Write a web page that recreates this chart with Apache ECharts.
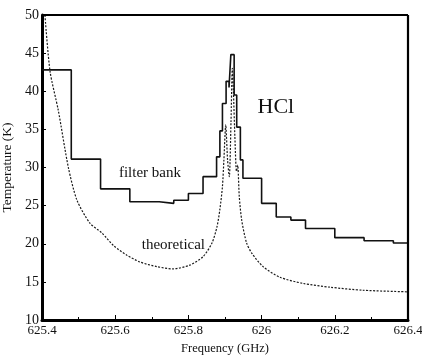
<!DOCTYPE html>
<html>
<head>
<meta charset="utf-8">
<script src="https://cdn.jsdelivr.net/npm/echarts@6/dist/echarts.min.js"></script>
<style>
  html, body { margin: 0; padding: 0; background: #fff; }
  #chart { width: 422px; height: 355px; }
</style>
</head>
<body>
<div id="chart"></div>
<script>
// Filter bank channel edges (GHz) and the brightness temperature of each channel (K)
var channelEdges = [625.40, 625.48, 625.56, 625.64, 625.72, 625.76, 625.80, 625.84,
  625.877, 625.886, 625.893, 625.903, 625.911, 625.916, 625.925, 625.932, 625.942,
  625.949, 626.00, 626.04, 626.08, 626.12, 626.20, 626.28, 626.36, 626.40];
var channelTemps = [42.8, 31.1, 27.2, 25.5, 25.3, 25.7, 26.6, 28.8, 31.4, 34.8, 38.4,
  41.3, 40.5, 44.8, 39.5, 35.3, 31.0, 28.6, 25.3, 23.5, 23.1, 22.0, 20.8, 20.4, 20.1];

// Theoretical HCl line spectrum
var theoFreq = [625.408, 625.422, 625.4445, 625.472, 625.4956, 625.531, 625.564, 625.5967,
  625.632, 625.668, 625.714, 625.758, 625.804, 625.840, 625.8645, 625.878, 625.886,
  625.893, 625.897, 625.902, 625.907, 625.9117, 625.9164, 625.920, 625.923, 625.927,
  625.9314, 625.9347, 625.939, 625.9456, 625.959, 625.974, 626.004, 626.050, 626.113,
  626.187, 626.277, 626.397];
var theoTemp = [50.0, 42.6, 37.5, 30.0, 25.7, 22.7, 21.4, 19.7,
  18.5, 17.6, 17.0, 16.7, 17.2, 18.3, 20.1, 22.2, 24.5,
  27.5, 31.0, 35.6, 31.0, 28.8, 36.0, 43.0, 40.0, 34.0,
  29.5, 30.3, 26.2, 23.1, 20.1, 18.7, 17.0, 15.6, 14.8,
  14.3, 13.9, 13.7];

// Axis ticks
var freqTicks = [625.4, 625.6, 625.8, 626.0, 626.2, 626.4];
var freqTickLabels = ['625.4', '625.6', '625.8', '626', '626.2', '626.4'];
var tempTicks = [10, 15, 20, 25, 30, 35, 40, 45, 50];

// Text annotations placed in data coordinates
var notes = [
  { text: 'filter bank', f: 625.695, t: 29.3, size: 15 },
  { text: 'theoretical', f: 625.759, t: 19.8, size: 15 },
  { text: 'HCl', f: 626.039, t: 37.9, size: 22 }
];

var FONT = '"Liberation Serif", "DejaVu Serif", serif';

// Histogram-style outline for the filter bank channels
var stepData = [];
for (var i = 0; i < channelTemps.length; i++) {
  stepData.push([channelEdges[i], channelTemps[i]]);
  stepData.push([channelEdges[i + 1], channelTemps[i]]);
}
var theoData = theoFreq.map(function (f, i) { return [f, theoTemp[i]]; });

function freqLabel(v) {
  for (var i = 0; i < freqTicks.length; i++) {
    if (Math.abs(v - freqTicks[i]) < 1e-6) return freqTickLabels[i];
  }
  return '';
}

var chart = echarts.init(document.getElementById('chart'));
chart.setOption({
  animation: false,
  backgroundColor: '#fff',
  grid: { left: 42, right: 14, top: 15, bottom: 35, containLabel: false, outerBoundsMode: 'none' },
  xAxis: {
    type: 'value',
    min: 625.4, max: 626.4, interval: 0.2,
    name: 'Frequency (GHz)',
    nameLocation: 'middle', nameGap: 22,
    nameTextStyle: { fontFamily: FONT, fontSize: 12.5, color: '#111' },
    axisLine: { show: true, lineStyle: { color: '#000', width: 3 } },
    axisTick: { show: true, inside: true, length: 5, lineStyle: { color: '#000', width: 1 } },
    minorTick: { show: true, splitNumber: 2, length: 3, lineStyle: { color: '#000' } },
    axisLabel: { fontFamily: FONT, fontSize: 13, color: '#111', margin: 4, formatter: freqLabel, showMinLabel: true, showMaxLabel: true },
    splitLine: { show: false }
  },
  yAxis: {
    type: 'value',
    min: 10, max: 50, interval: 5,
    name: 'Temperature (K)',
    nameLocation: 'middle', nameGap: 24,
    nameTextStyle: { fontFamily: FONT, fontSize: 13.5, color: '#111' },
    axisLine: { show: true, lineStyle: { color: '#000', width: 3 } },
    axisTick: { show: true, inside: true, length: 4, lineStyle: { color: '#000', width: 1 } },
    axisLabel: { fontFamily: FONT, fontSize: 14, color: '#111', margin: 3,
      formatter: function (v) { return tempTicks.indexOf(v) >= 0 ? String(v) : ''; } },
    splitLine: { show: false }
  },
  series: [
    {
      name: 'filter bank',
      type: 'line',
      data: stepData,
      symbol: 'none',
      clip: true,
      lineStyle: { color: '#111', width: 1.6 },
      z: 3
    },
    {
      name: 'theoretical',
      type: 'line',
      data: theoData,
      symbol: 'none',
      smooth: 0.25,
      clip: true,
      lineStyle: { color: '#1a1a1a', width: 1.2, type: [2, 1.5] },
      z: 2
    }
  ]
});

// Frame around the plotting area (top and right edges) plus annotations
var tl = chart.convertToPixel({ gridIndex: 0 }, [625.4, 50]);
var br = chart.convertToPixel({ gridIndex: 0 }, [626.4, 10]);
var graphics = [
  { type: 'line', shape: { x1: tl[0], y1: tl[1], x2: br[0], y2: tl[1] }, style: { stroke: '#000', lineWidth: 2.2 }, z: 10 },
  { type: 'line', shape: { x1: br[0], y1: tl[1], x2: br[0], y2: br[1] }, style: { stroke: '#000', lineWidth: 2.2 }, z: 10 }
];
notes.forEach(function (n) {
  var p = chart.convertToPixel({ gridIndex: 0 }, [n.f, n.t]);
  graphics.push({
    type: 'text', x: p[0], y: p[1], z: 10,
    style: { text: n.text, fontFamily: FONT, fontSize: n.size, fill: '#111', align: 'center', verticalAlign: 'middle' }
  });
});
chart.setOption({ graphic: graphics });
</script>
</body>
</html>
